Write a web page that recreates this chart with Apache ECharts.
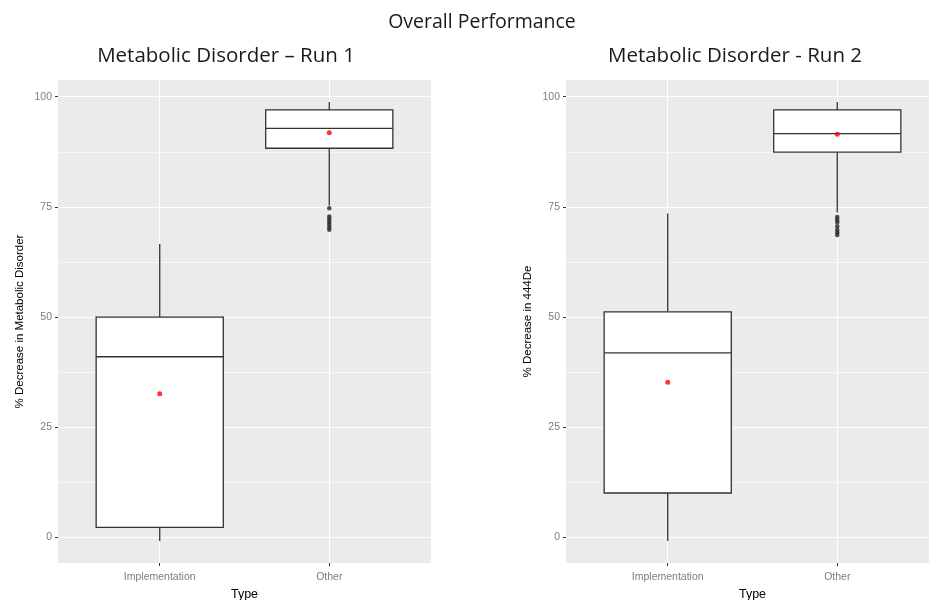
<!DOCTYPE html>
<html>
<head>
<meta charset="utf-8">
<script src="https://cdn.jsdelivr.net/npm/echarts@6/dist/echarts.min.js"></script>
<style>
  html, body { margin: 0; padding: 0; background: #ffffff; }
  #chart { width: 929px; height: 600px; }
</style>
</head>
<body>
<div id="chart"></div>
<script>
// Group labels shown on each x axis
const categories = ['Implementation', 'Other'];

// Five-number summaries per group: [lower whisker, Q1, median, Q3, upper whisker]
const run1Boxes = [
  [-0.8, 2.3, 41.0, 50.0, 66.6],
  [75.3, 88.3, 92.8, 97.0, 98.8]
];
const run2Boxes = [
  [-0.8, 10.1, 41.9, 51.2, 73.5],
  [73.7, 87.4, 91.6, 97.0, 98.8]
];

// Group means (red points)
const run1Means = [32.6, 91.8];
const run2Means = [35.2, 91.5];

// Outliers of the "Other" group
const run1Outliers = [74.7, 72.8, 72.2, 71.6, 71.0, 70.4, 69.8];
const run2Outliers = [72.7, 72.1, 71.5, 70.6, 69.8, 69.2, 68.6];

// Y tick labels
const majorTicks = [0, 25, 50, 75, 100];
const minorTicks = [12.5, 37.5, 62.5, 87.5];

const Y_MIN = -5.78, Y_MAX = 103.78;
const BOX_WIDTH = 0.75;
const panelBg = '#EBEBEB';
const ink = '#333333';
const tickLabelColor = '#7d7b88';

function boxRender(params, api) {
  const x = api.value(0);
  const lo = api.value(1), q1 = api.value(2), med = api.value(3), q3 = api.value(4), hi = api.value(5);
  const half = BOX_WIDTH / 2;
  const pTL = api.coord([x - half, q3]);
  const pBR = api.coord([x + half, q1]);
  const pMedL = api.coord([x - half, med]);
  const pMedR = api.coord([x + half, med]);
  const pHi = api.coord([x, hi]);
  const pLo = api.coord([x, lo]);
  const lineStyle = { stroke: ink, lineWidth: 1.3 };
  return {
    type: 'group',
    children: [
      { type: 'line', shape: { x1: pHi[0], y1: pHi[1], x2: pHi[0], y2: pTL[1] }, style: lineStyle },
      { type: 'line', shape: { x1: pLo[0], y1: pBR[1], x2: pLo[0], y2: pLo[1] }, style: lineStyle },
      {
        type: 'rect',
        shape: { x: pTL[0], y: pTL[1], width: pBR[0] - pTL[0], height: pBR[1] - pTL[1] },
        style: { fill: '#ffffff', stroke: ink, lineWidth: 1.3 }
      },
      { type: 'line', shape: { x1: pMedL[0], y1: pMedL[1], x2: pMedR[0], y2: pMedR[1] }, style: lineStyle }
    ]
  };
}

function xAxisFor(gridIndex) {
  return {
    type: 'value', gridIndex: gridIndex, min: 0.4, max: 2.6, position: 'bottom',
    name: 'Type', nameLocation: 'middle', nameGap: 24,
    nameTextStyle: { color: '#000000', fontSize: 12.5, fontFamily: 'Liberation Sans' },
    axisLine: { show: false, onZero: false },
    axisTick: { show: true, length: 3, lineStyle: { color: ink }, customValues: [1, 2] },
    axisLabel: {
      customValues: [1, 2], margin: 9, color: tickLabelColor, fontSize: 10.5,
      fontFamily: 'Liberation Sans',
      formatter: v => categories[Math.round(v) - 1] || ''
    },
    splitLine: { show: true, lineStyle: { color: '#ffffff', width: 1.1 } }
  };
}

function yAxisFor(gridIndex, title, gap) {
  return {
    type: 'value', gridIndex: gridIndex, min: Y_MIN, max: Y_MAX, position: 'left',
    name: title, nameLocation: 'middle', nameGap: gap, nameRotate: 90,
    nameTextStyle: { color: '#000000', fontSize: 11.5, fontFamily: 'Liberation Sans' },
    axisLine: { show: false, onZero: false },
    axisTick: { show: true, length: 3, lineStyle: { color: ink }, customValues: majorTicks },
    axisLabel: { customValues: majorTicks, margin: 6, color: tickLabelColor, fontSize: 10.5, fontFamily: 'Liberation Sans' },
    splitLine: { show: true, lineStyle: { color: '#ffffff', width: 1.1 } }
  };
}

function minorYAxisFor(gridIndex) {
  return {
    type: 'value', gridIndex: gridIndex, min: Y_MIN, max: Y_MAX, position: 'right',
    axisLine: { show: false, onZero: false },
    axisTick: { show: false, customValues: minorTicks },
    axisLabel: { show: false, customValues: minorTicks },
    splitLine: { show: true, lineStyle: { color: '#ffffff', width: 0.6 } }
  };
}

function boxData(boxes) {
  return boxes.map((b, i) => [i + 1].concat(b));
}
function pointData(values) {
  return values.map((v, i) => [i + 1, v]);
}
function outlierData(values) {
  return values.map(v => [2, v]);
}

const chart = echarts.init(document.getElementById('chart'), null, { renderer: 'canvas' });

chart.setOption({
  backgroundColor: '#ffffff',
  animation: false,
  title: [
    {
      text: 'Overall Performance', left: 477, top: 7, textAlign: 'center',
      textStyle: { fontSize: 19.5, fontWeight: 'normal', color: '#1a1a1a', fontFamily: 'Open Sans' }
    },
    {
      text: 'Metabolic Disorder – Run 1', left: 221, top: 41, textAlign: 'center',
      textStyle: { fontSize: 20.5, fontWeight: 'normal', color: '#1a1a1a', fontFamily: 'Open Sans' }
    },
    {
      text: 'Metabolic Disorder - Run 2', left: 730, top: 41, textAlign: 'center',
      textStyle: { fontSize: 20.5, fontWeight: 'normal', color: '#1a1a1a', fontFamily: 'Open Sans' }
    }
  ],
  grid: [
    { left: 58, right: 498, top: 80, bottom: 37, show: true, backgroundColor: panelBg, borderWidth: 0, outerBoundsMode: 'none', containLabel: false },
    { left: 566, right: -10, top: 80, bottom: 37, show: true, backgroundColor: panelBg, borderWidth: 0, outerBoundsMode: 'none', containLabel: false }
  ],
  xAxis: [xAxisFor(0), xAxisFor(1)],
  yAxis: [
    minorYAxisFor(0),
    minorYAxisFor(1),
    yAxisFor(0, '% Decrease in Metabolic Disorder', 32),
    yAxisFor(1, '% Decrease in 444De', 32)
  ],
  series: [
    {
      type: 'custom', xAxisIndex: 0, yAxisIndex: 2, renderItem: boxRender,
      encode: { x: 0, y: [1, 2, 3, 4, 5] }, data: boxData(run1Boxes), z: 2
    },
    {
      type: 'custom', xAxisIndex: 1, yAxisIndex: 3, renderItem: boxRender,
      encode: { x: 0, y: [1, 2, 3, 4, 5] }, data: boxData(run2Boxes), z: 2
    },
    {
      type: 'scatter', xAxisIndex: 0, yAxisIndex: 2, symbolSize: 4.5,
      itemStyle: { color: '#222222' }, data: outlierData(run1Outliers), z: 3
    },
    {
      type: 'scatter', xAxisIndex: 1, yAxisIndex: 3, symbolSize: 4.5,
      itemStyle: { color: '#222222' }, data: outlierData(run2Outliers), z: 3
    },
    {
      type: 'scatter', xAxisIndex: 0, yAxisIndex: 2, symbolSize: 5,
      itemStyle: { color: '#ff0000' }, data: pointData(run1Means), z: 4
    },
    {
      type: 'scatter', xAxisIndex: 1, yAxisIndex: 3, symbolSize: 5,
      itemStyle: { color: '#ff0000' }, data: pointData(run2Means), z: 4
    }
  ]
});
</script>
</body>
</html>
